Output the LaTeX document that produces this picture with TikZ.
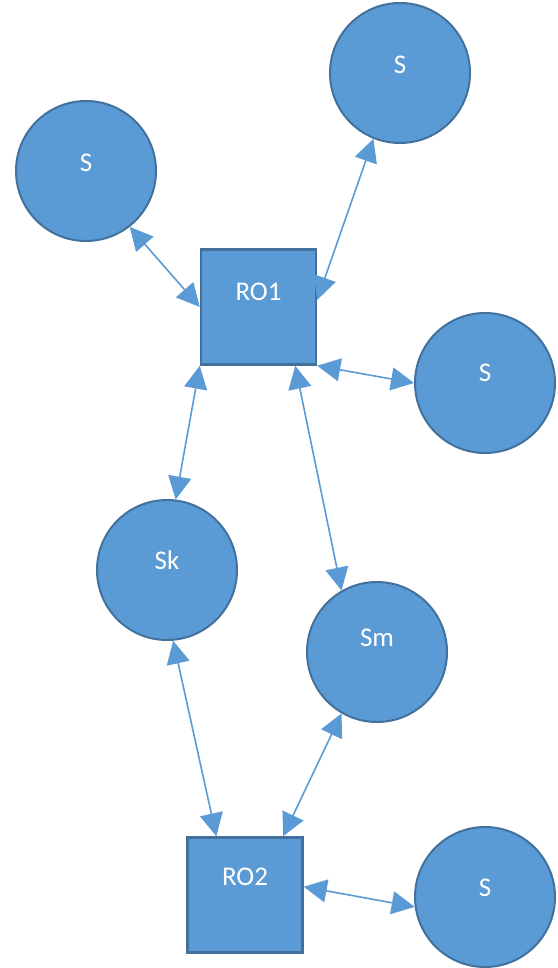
\documentclass[tikz,border=0pt]{standalone}
\usepackage{fontspec}
\setmainfont{Carlito}
\usetikzlibrary{arrows.meta}
\definecolor{shapefill}{HTML}{5B9BD5}
\definecolor{shapeline}{HTML}{41719C}
\definecolor{linkcol}{HTML}{5B9BD5}
\tikzset{
  station/.style={circle, fill=shapefill, draw=shapeline, line width=2pt,
    minimum size=140pt, inner sep=0pt},
  relay/.style={rectangle, fill=shapefill, draw=shapeline, line width=2.5pt,
    minimum size=115pt, inner sep=0pt},
  lbl/.style={text=white, font=\fontsize{27}{32}\selectfont, inner sep=0pt},
  link/.style={draw=linkcol, line width=1.6pt,
    {Triangle[length=23pt,width=23pt]}-{Triangle[length=23pt,width=23pt]}}
}
\begin{document}
\begin{tikzpicture}[x=1pt,y=-1pt]
  \useasboundingbox (0,0) rectangle (557,968);

  % stations and relay nodes
  \node[station] (s1) at (86,171) {};
  \node[station] (s2) at (400,73) {};
  \node[station] (s3) at (485,383) {};
  \node[station] (sk) at (167,570) {};
  \node[station] (sm) at (377,652) {};
  \node[station] (s6) at (485,897) {};
  \node[relay] (ro1) at (258.5,307) {};
  \node[relay] (ro2) at (245,895) {};

  % labels
  \node[lbl] (t1) at ([yshift=8pt]s1.center) {S};
  \node[lbl] (t2) at ([yshift=8pt]s2.center) {S};
  \node[lbl] (t3) at ([yshift=10pt]s3.center) {S};
  \node[lbl] (tk) at ([yshift=10pt]sk.center) {Sk};
  \node[lbl] (tm) at ([yshift=14pt]sm.center) {Sm};
  \node[lbl] (t6) at ([yshift=9pt]s6.center) {S};
  \node[lbl] (tr1) at ([yshift=15pt]ro1.center) {RO1};
  \node[lbl] (tr2) at ([yshift=18pt]ro2.center) {RO2};

  % two-way links
  \draw[link] (s1.-52) -- (ro1.west);
  \draw[link] (s2.-112) -- (ro1.7);
  \draw[link] (ro1.south east) -- (s3.180);
  \draw[link] (ro1.south west) -- (sk.83);
  \draw[link] (ro1.-58) -- (sm.120);
  \draw[link] (sk.-85) -- (ro2.116);
  \draw[link] (sm.-120) -- (ro2.57);
  \draw[link] (ro2.8) -- (s6.188);
\end{tikzpicture}
\end{document}
